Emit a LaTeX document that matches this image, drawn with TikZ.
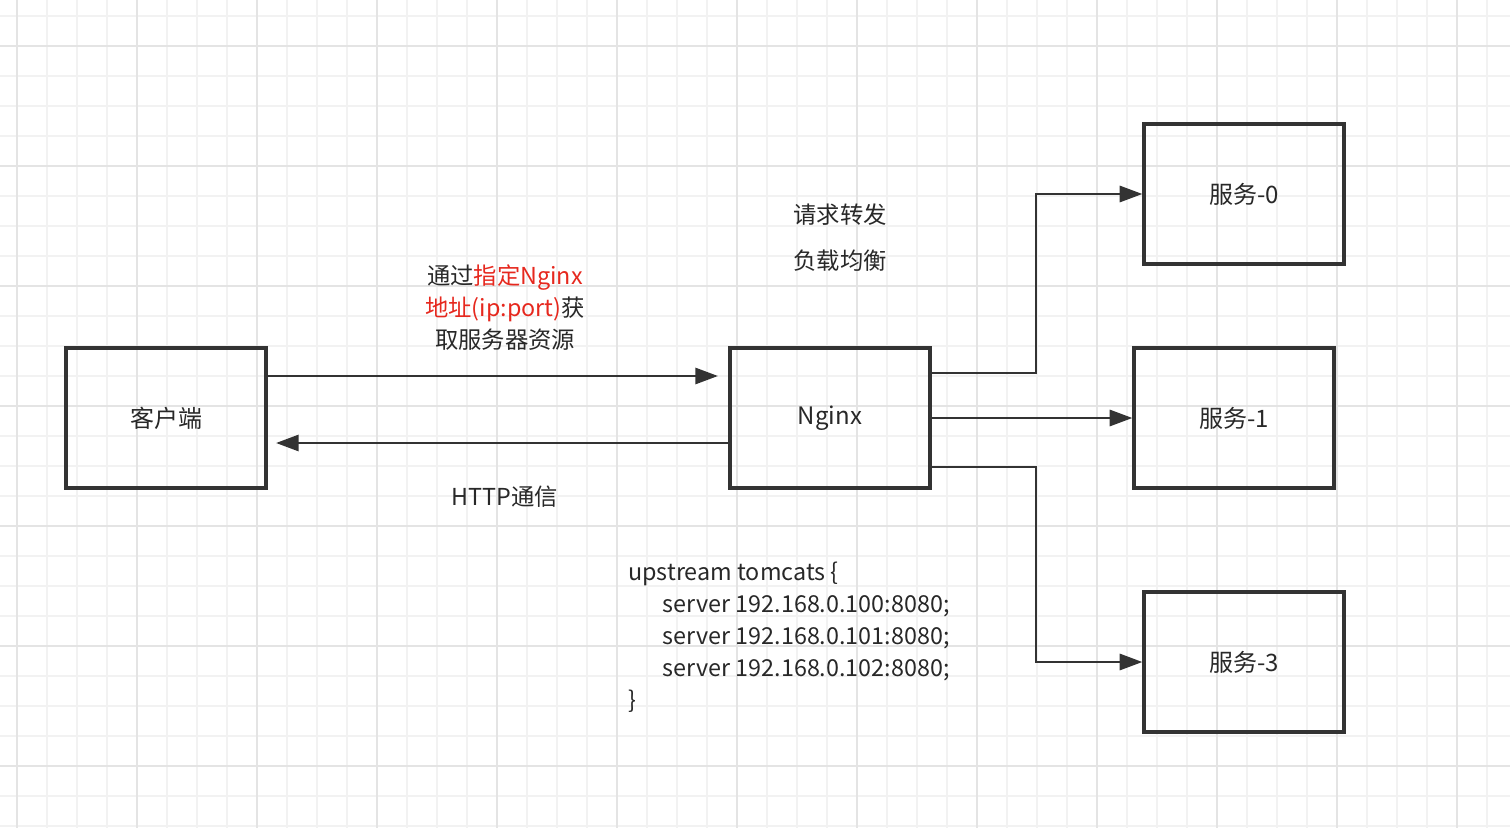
\documentclass[tikz,border=0pt]{standalone}
\usepackage{fontspec}
\setmainfont{Noto Sans CJK SC}
\usetikzlibrary{arrows.meta}
\definecolor{gminor}{RGB}{242,242,242}
\definecolor{gmajor}{RGB}{228,228,228}
\definecolor{txt}{RGB}{40,40,40}
\definecolor{lnk}{RGB}{51,51,51}
\definecolor{redt}{RGB}{230,40,30}
\tikzset{
 box/.style={draw=lnk,line width=2.4pt,minimum width=150pt,minimum height=105pt,inner sep=0pt,font=\fontsize{18}{22}\selectfont,text=txt},
 arr/.style={draw=lnk,line width=2.2pt,-{Triangle[length=17pt,width=12pt]}},
 lbl/.style={font=\fontsize{17.5}{24}\selectfont,text=txt,inner sep=0pt}
}
\begin{document}
\begin{tikzpicture}[x=0.75pt,y=-0.75pt]
\useasboundingbox (0,0) rectangle (1510,828);
\fill[white] (0,0) rectangle (1510,828);
\foreach \i in {0,...,50}{\draw[gminor,line width=1.5pt] (17+30*\i,0) -- (17+30*\i,828);}
\foreach \i in {0,...,28}{\draw[gminor,line width=1.5pt] (0,16+30*\i) -- (1510,16+30*\i);}
\foreach \i in {0,...,12}{\draw[gmajor,line width=1.5pt] (17+120*\i,0) -- (17+120*\i,828);}
\foreach \i in {0,...,6}{\draw[gmajor,line width=1.5pt] (0,46+120*\i) -- (1510,46+120*\i);}
\node[box] (c) at (166,418) {客户端};
\node[box] (n) at (830,418) {Nginx};
\node[box] (s0) at (1244,194) {服务-0};
\node[box] (s1) at (1234,418) {服务-1};
\node[box] (s3) at (1244,662) {服务-3};
\coordinate (a1) at (718,376);
\coordinate (a2) at (276,443);
\draw[arr] (c.east|-a1) -- (a1);
\draw[arr] (n.west|-a2) -- (a2);
\draw[arr] (930,373) -- (1036,373) |- (s0.west);
\draw[arr] (n.east) -- (s1.west);
\draw[arr] (930,467) -- (1036,467) |- (s3.west);
\node[lbl,align=center] (t1) at (505,308) {通过\textcolor{redt}{指定Nginx}\\\textcolor{redt}{地址(ip:port)}获\\取服务器资源};
\node[lbl] (t2) at (505,497) {HTTP通信};
\node[lbl] (t3) at (840,215) {请求转发};
\node[lbl] (t4) at (840,261) {负载均衡};
\node[lbl,align=left,anchor=north west] (t5) at (628,562) {upstream tomcats \{\\\hspace{26pt}server 192.168.0.100:8080;\\\hspace{26pt}server 192.168.0.101:8080;\\\hspace{26pt}server 192.168.0.102:8080;\\\}};
\end{tikzpicture}
\end{document}
